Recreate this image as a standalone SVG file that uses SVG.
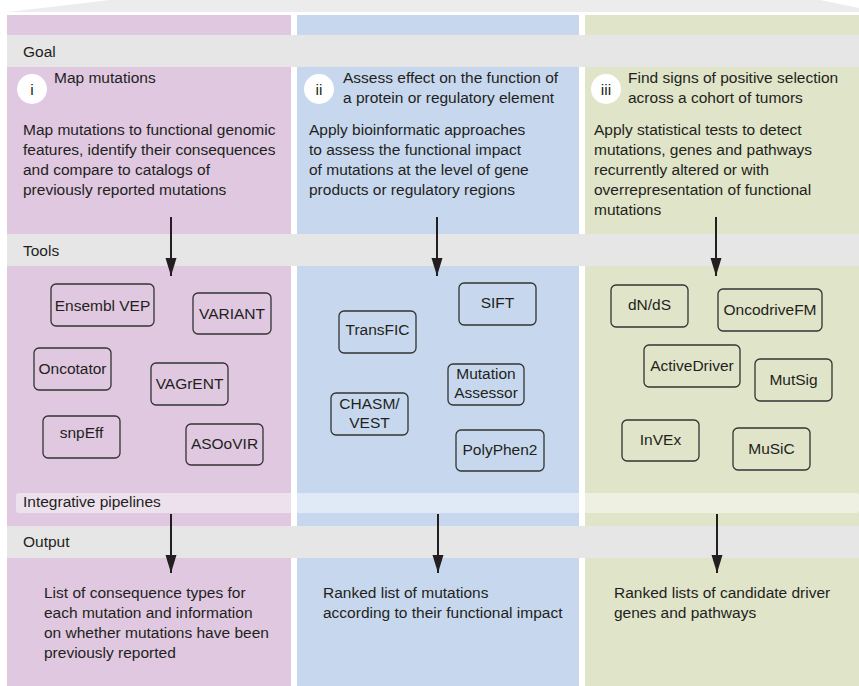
<svg xmlns="http://www.w3.org/2000/svg" width="859" height="686" viewBox="0 0 859 686">
<style>
text{font-family:"Liberation Sans",Arial,sans-serif;font-size:15.5px;fill:#231f20}
.tool rect{fill:none;stroke:#333;stroke-width:1.3}
.tool text{text-anchor:middle}
.band{fill:#e6e6e6}
.conn line{stroke:#231f20;stroke-width:2}
</style>
<defs>
<marker id="ah" markerUnits="userSpaceOnUse" markerWidth="19" markerHeight="12" refX="18" refY="6" orient="auto" viewBox="0 0 19 12">
<path d="M0,0.5 L18,6 L0,11.5 z" fill="#231f20"/>
</marker>
</defs>
<rect width="859" height="686" fill="#fff"/>
<polygon points="8,12 110,0 820,0 859,8 859,12" fill="#ececec"/>
<g id="columns">
<rect x="7" y="15" width="284" height="671" fill="#dfc8e0"/>
<rect x="297" y="15" width="282" height="671" fill="#c7d8ee"/>
<rect x="585" y="15" width="274" height="671" fill="#e0e4c8"/>
</g>
<g id="bands">
<rect class="band" x="7" y="35" width="852" height="32"/>
<text x="23" y="57">Goal</text>
<rect class="band" x="7" y="234" width="852" height="32"/>
<text x="23" y="256">Tools</text>
<rect x="16" y="493" width="843" height="20" rx="3" fill="#fff" fill-opacity="0.45"/>
<text x="23" y="507">Integrative pipelines</text>
<rect class="band" x="7" y="526" width="852" height="32"/>
<text x="23" y="547">Output</text>
</g>
<g id="goal-i">
<circle cx="32" cy="89" r="15" fill="#fff"/>
<text x="32" y="95" text-anchor="middle">i</text>
<text x="54" y="83">Map mutations</text>
</g>
<g id="goal-ii">
<circle cx="319" cy="89" r="15" fill="#fff"/>
<text x="319" y="95" text-anchor="middle">ii</text>
<text x="343" y="83">Assess effect on the function of</text>
<text x="343" y="103">a protein or regulatory element</text>
</g>
<g id="goal-iii">
<circle cx="606" cy="89" r="15" fill="#fff"/>
<text x="606" y="95" text-anchor="middle">iii</text>
<text x="628" y="83">Find signs of positive selection</text>
<text x="628" y="103">across a cohort of tumors</text>
</g>
<g id="desc-i">
<text x="23" y="135">Map mutations to functional genomic</text>
<text x="23" y="155">features, identify their consequences</text>
<text x="23" y="175">and compare to catalogs of</text>
<text x="23" y="195">previously reported mutations</text>
</g>
<g id="desc-ii">
<text x="309" y="135">Apply bioinformatic approaches</text>
<text x="309" y="155">to assess the functional impact</text>
<text x="309" y="175">of mutations at the level of gene</text>
<text x="309" y="195">products or regulatory regions</text>
</g>
<g id="desc-iii">
<text x="594" y="135">Apply statistical tests to detect</text>
<text x="594" y="155">mutations, genes and pathways</text>
<text x="594" y="175">recurrently altered or with</text>
<text x="594" y="195">overrepresentation of functional</text>
<text x="594" y="215">mutations</text>
</g>
<g id="tool-ensembl" class="tool"><rect x="51" y="284" width="103" height="42" rx="5"/><text x="102.5" y="311">Ensembl VEP</text></g>
<g id="tool-variant" class="tool"><rect x="193" y="293" width="78" height="41" rx="5"/><text x="232" y="319">VARIANT</text></g>
<g id="tool-oncotator" class="tool"><rect x="34" y="348" width="77" height="42" rx="5"/><text x="72.5" y="374">Oncotator</text></g>
<g id="tool-vagrent" class="tool"><rect x="151" y="363" width="77" height="42" rx="5"/><text x="189.5" y="389">VAGrENT</text></g>
<g id="tool-snpeff" class="tool"><rect x="43" y="416" width="77" height="42" rx="5"/><text x="81.5" y="438">snpEff</text></g>
<g id="tool-asoovir" class="tool"><rect x="186" y="424" width="77" height="41" rx="5"/><text x="224.5" y="449">ASOoVIR</text></g>
<g id="tool-sift" class="tool"><rect x="459" y="283" width="77" height="42" rx="5"/><text x="497.5" y="308">SIFT</text></g>
<g id="tool-transfic" class="tool"><rect x="339" y="311" width="77" height="42" rx="5"/><text x="377.5" y="335">TransFIC</text></g>
<g id="tool-mutassessor" class="tool"><rect x="448" y="364" width="76" height="41" rx="5"/><text x="486" y="379">Mutation</text><text x="486" y="398">Assessor</text></g>
<g id="tool-chasm" class="tool"><rect x="331" y="393" width="77" height="42" rx="5"/><text x="369.5" y="409">CHASM/</text><text x="369.5" y="428">VEST</text></g>
<g id="tool-polyphen" class="tool"><rect x="456" y="430" width="88" height="41" rx="5"/><text x="500" y="455">PolyPhen2</text></g>
<g id="tool-dnds" class="tool"><rect x="611" y="285" width="77" height="42" rx="5"/><text x="649.5" y="310">dN/dS</text></g>
<g id="tool-oncodrivefm" class="tool"><rect x="718" y="289" width="104" height="42" rx="5"/><text x="770" y="315">OncodriveFM</text></g>
<g id="tool-activedriver" class="tool"><rect x="644" y="345" width="96" height="42" rx="5"/><text x="692" y="371">ActiveDriver</text></g>
<g id="tool-mutsig" class="tool"><rect x="755" y="359" width="77" height="42" rx="5"/><text x="793.5" y="385">MutSig</text></g>
<g id="tool-invex" class="tool"><rect x="622" y="420" width="77" height="41" rx="5"/><text x="660.5" y="445">InVEx</text></g>
<g id="tool-music" class="tool"><rect x="733" y="428" width="77" height="42" rx="5"/><text x="771.5" y="454">MuSiC</text></g>
<g id="out-i">
<text x="44" y="598">List of consequence types for</text>
<text x="44" y="618">each mutation and information</text>
<text x="44" y="638">on whether mutations have been</text>
<text x="44" y="658">previously reported</text>
</g>
<g id="out-ii">
<text x="323" y="598">Ranked list of mutations</text>
<text x="323" y="618">according to their functional impact</text>
</g>
<g id="out-iii">
<text x="614" y="598">Ranked lists of candidate driver</text>
<text x="614" y="618">genes and pathways</text>
</g>
<g id="connectors" class="conn">
<line x1="171" y1="217" x2="171" y2="276" marker-end="url(#ah)"/>
<line x1="437" y1="217" x2="437" y2="276" marker-end="url(#ah)"/>
<line x1="716" y1="217" x2="716" y2="276" marker-end="url(#ah)"/>
<line x1="171" y1="514" x2="171" y2="573" marker-end="url(#ah)"/>
<line x1="438" y1="514" x2="438" y2="573" marker-end="url(#ah)"/>
<line x1="717" y1="514" x2="717" y2="573" marker-end="url(#ah)"/>
</g>
</svg>
